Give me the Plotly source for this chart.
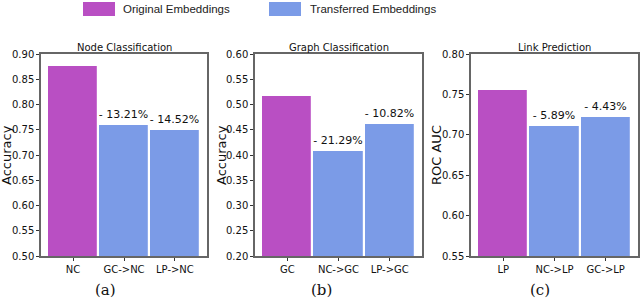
import plotly.graph_objects as go

W, H = 640, 300

# ---- data ----
nc_cats = ["NC", "GC->NC", "LP->NC"]
nc_vals = [0.876, 0.760, 0.749]
nc_labels = ["", "- 13.21%", "- 14.52%"]

gc_cats = ["GC", "NC->GC", "LP->GC"]
gc_vals = [0.517, 0.407, 0.461]
gc_labels = ["", "- 21.29%", "- 10.82%"]

lp_cats = ["LP", "NC->LP", "GC->LP"]
lp_vals = [0.756, 0.711, 0.722]
lp_labels = ["", "- 5.89%", "- 4.43%"]

titles = ["Node Classification", "Graph Classification", "Link Prediction"]
ytitles = ["Accuracy", "Accuracy", "ROC AUC"]
yranges = [[0.50, 0.90], [0.20, 0.60], [0.55, 0.80]]
captions = ["(a)", "(b)", "(c)"]
legend_names = ["Original Embeddings", "Transferred Embeddings"]

PURPLE = "#B94FC3"
BLUE = "#7B9BE7"
SPINE = "#666666"

def px(x):
    return x / W

def py(y):
    return 1 - y / H

# panel pixel boxes (left, right)
boxes = [(41, 207), (255, 422), (471, 638)]
ytitle_x = [6, 221, 436]
caption_x = [105, 321, 540]
ytop, ybot = 54, 256

fig = go.Figure()
panels = [(nc_cats, nc_vals, nc_labels), (gc_cats, gc_vals, gc_labels), (lp_cats, lp_vals, lp_labels)]

annotations = []
shapes = []
for i, (cats, vals, labels) in enumerate(panels):
    n = i + 1
    xa = "x" if n == 1 else f"x{n}"
    ya = "y" if n == 1 else f"y{n}"
    colors = [PURPLE] + [BLUE] * (len(cats) - 1)
    fig.add_trace(go.Bar(
        x=list(range(len(cats))), y=vals, xaxis=xa, yaxis=ya,
        marker=dict(color=colors, line=dict(color="white", width=1.2)),
        width=0.98, text=labels, textposition="outside",
        textfont=dict(family="DejaVu Sans", size=11, color="#111"),
        cliponaxis=False, showlegend=False, hoverinfo="y",
    ))
    l, r = boxes[i]
    axkey = "xaxis" if n == 1 else f"xaxis{n}"
    aykey = "yaxis" if n == 1 else f"yaxis{n}"
    lo, hi = yranges[i]
    tickvals = []
    v = lo
    while v <= hi + 1e-9:
        tickvals.append(round(v, 2))
        v += 0.05
    fig.update_layout(**{
        axkey: dict(domain=[px(l), px(r)], anchor=ya, range=[-0.63, 2.63],
                    tickvals=list(range(len(cats))), ticktext=cats,
                    showline=True, mirror=True, linecolor=SPINE, linewidth=1.5,
                    ticks="outside", ticklen=3, tickcolor="#333", showgrid=False,
                    zeroline=False, automargin=False,
                    tickfont=dict(family="DejaVu Sans", size=10, color="#111")),
        aykey: dict(domain=[py(ybot), py(ytop)], anchor=xa, range=[lo, hi],
                    tickvals=tickvals, tickformat=".2f",
                    showline=True, mirror=True, linecolor=SPINE, linewidth=1.5,
                    ticks="outside", ticklen=3, tickcolor="#333", showgrid=False,
                    zeroline=False, automargin=False,
                    tickfont=dict(family="DejaVu Sans", size=10, color="#111")),
    })
    cx = (l + r) / 2
    annotations.append(dict(text=titles[i], x=px(cx), y=py(47), xref="paper", yref="paper",
                            showarrow=False, xanchor="center", yanchor="middle",
                            font=dict(family="DejaVu Sans", size=10, color="#111")))
    annotations.append(dict(text=ytitles[i], x=px(ytitle_x[i]), y=py((ytop + ybot) / 2),
                            xref="paper", yref="paper", textangle=-90,
                            showarrow=False, xanchor="center", yanchor="middle",
                            font=dict(family="DejaVu Sans", size=13, color="#111")))
    annotations.append(dict(text=captions[i], x=px(caption_x[i]), y=py(290), xref="paper", yref="paper",
                            showarrow=False, xanchor="center", yanchor="middle",
                            font=dict(family="DejaVu Serif", size=15, color="#111")))

# legend drawn manually (large swatches)
leg = [(83, 115, 121, PURPLE, legend_names[0]), (269, 301, 308, BLUE, legend_names[1])]
for x0, x1, tx, col, name in leg:
    shapes.append(dict(type="rect", xref="paper", yref="paper", x0=px(x0), x1=px(x1),
                       y0=py(16), y1=py(2), fillcolor=col, line=dict(width=0)))
    annotations.append(dict(text=name, x=px(tx), y=py(9), xref="paper", yref="paper",
                            showarrow=False, xanchor="left", yanchor="middle",
                            font=dict(family="Liberation Sans", size=11.5, color="#222")))

fig.update_layout(width=W, height=H, margin=dict(l=0, r=0, t=0, b=0, autoexpand=False),
                  paper_bgcolor="white", plot_bgcolor="white",
                  annotations=annotations, shapes=shapes, bargap=0)

fig.write_html("out.html", config={"displayModeBar": False},
               post_script="document.body.style.margin='0';")
